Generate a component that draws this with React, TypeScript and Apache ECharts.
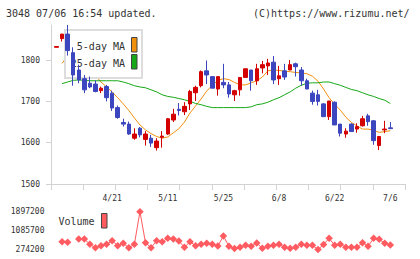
import { useEffect, useRef } from 'react';
import * as echarts from 'echarts';

// Trading days, 2020-04-07 .. 2020-07-06
const dates = [
  '4/7', '4/8', '4/9', '4/10', '4/13', '4/14', '4/15', '4/16', '4/17', '4/20',
  '4/21', '4/22', '4/23', '4/24', '4/27', '4/28', '4/30', '5/1', '5/7', '5/8',
  '5/11', '5/12', '5/13', '5/14', '5/15', '5/18', '5/19', '5/20', '5/21', '5/22',
  '5/25', '5/26', '5/27', '5/28', '5/29', '6/1', '6/2', '6/3', '6/4', '6/5',
  '6/8', '6/9', '6/10', '6/11', '6/12', '6/15', '6/16', '6/17', '6/18', '6/19',
  '6/22', '6/23', '6/24', '6/25', '6/26', '6/29', '6/30', '7/1', '7/2', '7/3',
  '7/6',
];
const dateLabels = ['4/21', '5/11', '5/25', '6/8', '6/22', '7/6'];

const opens = [
  1831, 1852, 1863, 1818, 1776, 1755, 1744, 1742, 1726, 1736,
  1720, 1685, 1649, 1645, 1611, 1635, 1608, 1611, 1588, 1613,
  1621, 1655, 1681, 1675, 1694, 1721, 1738, 1774, 1760, 1730,
  1746, 1740, 1716, 1728, 1758, 1776, 1750, 1781, 1786, 1795,
  1755, 1774, 1776, 1791, 1776, 1750, 1720, 1716, 1694, 1663,
  1698, 1645, 1621, 1645, 1633, 1641, 1665, 1653, 1593, 1631,
  1636,
];
const closes = [
  1833, 1863, 1823, 1764, 1752, 1728, 1735, 1724, 1732, 1709,
  1684, 1661, 1645, 1621, 1621, 1619, 1621, 1599, 1604, 1616,
  1658, 1669, 1678, 1688, 1724, 1734, 1772, 1764, 1732, 1760,
  1740, 1718, 1726, 1758, 1779, 1750, 1779, 1789, 1793, 1752,
  1762, 1759, 1789, 1784, 1750, 1730, 1700, 1700, 1663, 1701,
  1643, 1623, 1628, 1627, 1639, 1658, 1651, 1605, 1615, 1633,
  1634,
];
const lows = [
  1831, 1845, 1811, 1738, 1744, 1720, 1732, 1722, 1720, 1700,
  1677, 1658, 1639, 1619, 1607, 1613, 1593, 1590, 1581, 1588,
  1619, 1650, 1666, 1667, 1679, 1701, 1734, 1742, 1732, 1714,
  1732, 1709, 1701, 1714, 1758, 1726, 1740, 1768, 1764, 1742,
  1740, 1752, 1776, 1760, 1738, 1730, 1692, 1690, 1663, 1655,
  1643, 1615, 1612, 1627, 1624, 1639, 1641, 1595, 1582, 1623,
  1634,
];
const highs = [
  1833, 1863, 1885, 1831, 1789, 1764, 1760, 1751, 1736, 1740,
  1726, 1690, 1658, 1651, 1635, 1638, 1628, 1619, 1611, 1628,
  1660, 1682, 1696, 1698, 1728, 1738, 1775, 1799, 1760, 1760,
  1791, 1747, 1728, 1758, 1779, 1776, 1791, 1798, 1803, 1810,
  1786, 1791, 1800, 1794, 1783, 1755, 1726, 1728, 1696, 1701,
  1700, 1645, 1635, 1647, 1647, 1665, 1670, 1655, 1615, 1653,
  1650,
];

const ma5 = [
  null, 1792, 1810, 1810, 1803, 1793, 1778, 1762, 1747, 1735,
  1723, 1709, 1694, 1678, 1660, 1643, 1631, 1622, 1615, 1611,
  1614, 1624, 1634, 1650, 1672, 1689, 1706, 1725, 1739, 1751,
  1755, 1753, 1746, 1740, 1740, 1745, 1750, 1759, 1774, 1776,
  1775, 1773, 1772, 1770, 1769, 1767, 1761, 1749, 1730, 1709,
  1693, 1679, 1662, 1649, 1641, 1633, 1633, 1630, 1625, 1627,
  1629,
];
const ma25 = [
  null, 1743, 1747, 1751, 1752, 1751, 1750, 1750, 1750, 1750,
  1750, 1750, 1747, 1743, 1738, 1735, 1733, 1728, 1723, 1716,
  1712, 1710, 1707, 1704, 1700, 1695, 1692, 1688, 1685, 1685,
  1685, 1685, 1685, 1685, 1685, 1687, 1692, 1694, 1698, 1704,
  1709, 1716, 1723, 1732, 1739, 1744, 1745, 1745, 1747, 1747,
  1743, 1739, 1734, 1729, 1726, 1721, 1716, 1712, 1707, 1703,
  1695,
];

const volumes = [
  null, 609000, 583000, null, 725000, 725000, 497500, 351500, 437000, 497500,
  652000, 437000, 540000, 351500, 497500, 1897200, 566000, 351500, 652000, 609000,
  755000, 725000, 639000, 368700, 609000, 437000, 497500, 540000, 497500, 424500,
  854000, 411600, 317000, 368700, 454500, 411600, 553300, 325700, 411600, 454500,
  501800, 368700, 325700, 368700, 501800, 454500, 454500, 274200, 489000, 755100,
  454500, 501800, 368700, 368700, 368700, 566200, 411600, 755100, 716500, 540400,
  467400,
];

const priceTicks = [1500, 1600, 1700, 1800];
const volumeTicks = [274200, 1085700, 1897200];

const FONT = 'DejaVu Sans Mono';
const TEXT = '#333333';
const AXIS = '#d2d2d2';
const UP = '#d40000';
const DOWN = '#3c46be';
const ORANGE = '#f0900f';
const GREEN = '#17a817';
const VOL = '#ff5b60';

const plain = (v: number) => String(v);

export default function App() {
  const ref = useRef<HTMLDivElement>(null);

  useEffect(() => {
    if (!ref.current) return;
    const chart = echarts.init(ref.current, null, { renderer: 'svg' });

    const candleData = opens.map((o, i) => [o, closes[i], lows[i], highs[i]]);

    chart.setOption({
      animation: false,
      backgroundColor: '#ffffff',
      textStyle: { fontFamily: FONT },
      grid: [
        { left: 51, top: 25, width: 354, height: 159 },
        { left: 56.5, top: 25, width: 333.8, height: 159 },
        { left: 56.5, top: 211.7, width: 333.8, height: 37.8 },
      ],
      xAxis: [
        {
          type: 'value', gridIndex: 0, min: 0, max: 11, interval: 1,
          axisLine: { show: true, lineStyle: { color: AXIS, width: 1 } },
          axisTick: { show: true, length: 6, lineStyle: { color: AXIS } },
          axisLabel: { show: false },
          splitLine: { show: false },
        },
        {
          type: 'category', gridIndex: 1, data: dates, boundaryGap: false,
          axisLine: { show: false },
          axisTick: { show: false },
          splitLine: { show: false },
          axisLabel: {
            interval: (_i: number, v: string) => dateLabels.includes(v),
            fontFamily: FONT, fontSize: 8, color: TEXT, margin: 10,
          },
        },
        {
          type: 'category', gridIndex: 2, data: dates, boundaryGap: false, show: false,
        },
      ],
      yAxis: [
        {
          type: 'value', gridIndex: 0, min: 1500, max: 1885,
          axisLine: { show: true, lineStyle: { color: AXIS, width: 1 } },
          axisTick: { show: true, length: 5, customValues: priceTicks, lineStyle: { color: AXIS } },
          axisLabel: {
            customValues: priceTicks, formatter: plain,
            fontFamily: FONT, fontSize: 8, color: TEXT, margin: 11,
          },
          splitLine: { show: false },
        },
        { type: 'value', gridIndex: 1, min: 1500, max: 1885, show: false, splitLine: { show: false } },
        {
          type: 'value', gridIndex: 2, min: 274200, max: 1897200,
          axisLine: { show: false },
          axisTick: { show: false },
          axisLabel: {
            customValues: volumeTicks, formatter: plain,
            fontFamily: FONT, fontSize: 8, color: TEXT, margin: 12,
            padding: [0, 0, 4, 0],
          },
          splitLine: { show: false },
        },
      ],
      series: [
        {
          name: '5-day MA', type: 'line', xAxisIndex: 1, yAxisIndex: 1, data: ma5,
          showSymbol: false, symbol: 'none', z: 1,
          lineStyle: { color: ORANGE, width: 1 },
        },
        {
          name: '25-day MA', type: 'line', xAxisIndex: 1, yAxisIndex: 1, data: ma25,
          showSymbol: false, symbol: 'none', z: 1,
          lineStyle: { color: GREEN, width: 1 },
        },
        {
          type: 'candlestick', xAxisIndex: 1, yAxisIndex: 1, data: candleData,
          barWidth: 4, z: 5,
          itemStyle: {
            color: UP, color0: DOWN, borderColor: UP, borderColor0: DOWN, borderWidth: 1,
          },
        },
        {
          name: 'Volume', type: 'line', xAxisIndex: 2, yAxisIndex: 2, data: volumes,
          symbol: 'diamond', symbolSize: 7.5, showSymbol: true, showAllSymbol: true,
          connectNulls: false,
          itemStyle: { color: VOL },
          lineStyle: { color: VOL, width: 1 },
        },
      ],
      graphic: [
        {
          type: 'text', x: 6, y: 13.5, z: 10,
          style: { text: '3048 07/06 16:54 updated.', fontFamily: FONT, fontSize: 10, fill: TEXT, verticalAlign: 'middle' },
        },
        {
          type: 'text', x: 253, y: 13.5, z: 10,
          style: { text: '(C)https://www.rizumu.net/', fontFamily: FONT, fontSize: 10, fill: TEXT, verticalAlign: 'middle' },
        },
        {
          type: 'rect', z: 2,
          shape: { x: 65, y: 30, width: 77, height: 48 },
          style: { fill: '#ffffff', stroke: '#dddddd', lineWidth: 2 },
        },
        {
          type: 'text', x: 125, y: 46.7, z: 3,
          style: { text: '5-day MA', fontFamily: FONT, fontSize: 10, fill: TEXT, align: 'right', verticalAlign: 'middle' },
        },
        {
          type: 'text', x: 125, y: 63.3, z: 3,
          style: { text: '25-day MA', fontFamily: FONT, fontSize: 10, fill: TEXT, align: 'right', verticalAlign: 'middle' },
        },
        {
          type: 'rect', z: 3,
          shape: { x: 131.5, y: 37.5, width: 5.5, height: 14.5 },
          style: { fill: ORANGE, stroke: '#444444', lineWidth: 1 },
        },
        {
          type: 'rect', z: 3,
          shape: { x: 131.5, y: 54.5, width: 5.5, height: 14.5 },
          style: { fill: GREEN, stroke: '#444444', lineWidth: 1 },
        },
        {
          type: 'text', x: 58.5, y: 221.7, z: 3,
          style: { text: 'Volume', fontFamily: FONT, fontSize: 10, fill: TEXT, verticalAlign: 'middle' },
        },
        {
          type: 'rect', z: 3,
          shape: { x: 101.5, y: 213.5, width: 5.5, height: 14.5 },
          style: { fill: VOL, stroke: '#444444', lineWidth: 1 },
        },
      ],
    });

    return () => chart.dispose();
  }, []);

  return (
    <div
      ref={ref}
      style={{ position: 'fixed', left: 0, top: 0, width: 420, height: 259, background: '#fff' }}
    />
  );
}
